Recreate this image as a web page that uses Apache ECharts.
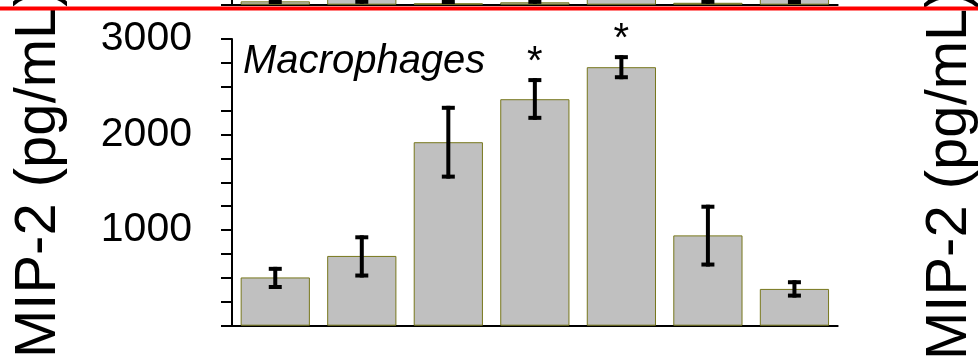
<!DOCTYPE html>
<html><head><meta charset="utf-8">
<script src="https://cdn.jsdelivr.net/npm/echarts@6/dist/echarts.min.js"></script>
<style>html,body{margin:0;padding:0;background:#fff}#c{width:978px;height:358px}</style>
</head><body><div id="c"></div>
<script>
// ---- main panel (Macrophages) ----
const categories = ['1', '2', '3', '4', '5', '6', '7'];
const mip2Means = [505, 730, 1920, 2370, 2705, 945, 385];
const mip2ErrLow = [405, 525, 1560, 2175, 2600, 640, 315];
const mip2ErrHigh = [595, 925, 2280, 2570, 2810, 1245, 455];
const significance = ['', '', '', '*', '*', '', ''];
const yLabelValues = [1000, 2000, 3000];
const panelLabel = 'Macrophages';
const yTitle = 'MIP-2 (pg/mL)';
// ---- upper panel (only its bottom edge is visible) ----
const upperMeans = [35, 900, 15, 25, 1200, 20, 800];
const upperErrLow = [28, 30, 28, 30, 1100, 30, 28];
const upperErrHigh = [300, 1200, 200, 200, 1300, 200, 1100];

const FONT = '"Liberation Sans", Arial, sans-serif';
const chart = echarts.init(document.getElementById('c'), null, {renderer: 'canvas', width: 978, height: 358});

function makeErrRender(withSig) {
  return function (params, api) {
    const x = api.value(0), lo = api.value(1), hi = api.value(2);
    const pLo = api.coord([x, lo]), pHi = api.coord([x, hi]);
    const hw = 6.5;
    const st = {stroke: '#000', lineWidth: 4, fill: null};
    const children = [
      {type: 'line', shape: {x1: pLo[0], y1: pLo[1] + 2, x2: pHi[0], y2: pHi[1] - 2}, style: st},
      {type: 'line', shape: {x1: pLo[0] - hw, y1: pLo[1], x2: pLo[0] + hw, y2: pLo[1]}, style: st},
      {type: 'line', shape: {x1: pHi[0] - hw, y1: pHi[1], x2: pHi[0] + hw, y2: pHi[1]}, style: st}
    ];
    const sig = withSig ? significance[params.dataIndex] : '';
    if (sig) {
      children.push({type: 'text', x: pHi[0], y: pHi[1] - 16.7,
        style: {text: sig, font: '40px ' + FONT, fill: '#000', align: 'center', verticalAlign: 'middle', textAlign: 'center', textVerticalAlign: 'middle'}});
    }
    return {type: 'group', children: children};
  };
}

const yAxisBase = {
  type: 'value', min: 0, max: 3000, interval: 250,
  axisLine: {show: true, lineStyle: {color: '#000', width: 2}},
  axisTick: {show: true, length: 11, lineStyle: {color: '#000', width: 2}},
  splitLine: {show: false}
};
const xAxisBase = {
  type: 'category', data: categories,
  axisLine: {show: true, lineStyle: {color: '#000', width: 2}},
  axisTick: {show: false}, axisLabel: {show: false}, splitLine: {show: false}
};
const barStyle = {color: '#c0c0c0', borderColor: '#77771c', borderWidth: 1};

const option = {
  animation: false,
  backgroundColor: '#fff',
  grid: [
    {left: 232, right: 140.3, top: 39, bottom: 32.3, outerBoundsMode: 'none', containLabel: false},
    {left: 232, right: 140.3, top: -282, bottom: 353.3, outerBoundsMode: 'none', containLabel: false}
  ],
  xAxis: [
    Object.assign({gridIndex: 0}, xAxisBase),
    Object.assign({gridIndex: 1}, xAxisBase)
  ],
  yAxis: [
    Object.assign({gridIndex: 0, axisLabel: {
      show: true, color: '#000', fontSize: 41, fontFamily: FONT, margin: 40, padding: [0, 0, 11, 0],
      formatter: function (v) { return yLabelValues.indexOf(v) >= 0 ? String(v) : ''; }
    }}, yAxisBase),
    Object.assign({gridIndex: 1, axisLabel: {show: false}}, yAxisBase)
  ],
  series: [
    {type: 'bar', xAxisIndex: 0, yAxisIndex: 0, data: mip2Means, barWidth: '80%', itemStyle: barStyle, z: 2},
    {type: 'custom', xAxisIndex: 0, yAxisIndex: 0, renderItem: makeErrRender(true),
      data: categories.map((c, i) => [i, mip2ErrLow[i], mip2ErrHigh[i]]), encode: {x: 0, y: [1, 2]}, z: 5},
    {type: 'bar', xAxisIndex: 1, yAxisIndex: 1, data: upperMeans, barWidth: '80%', itemStyle: barStyle, z: 2},
    {type: 'custom', xAxisIndex: 1, yAxisIndex: 1, renderItem: makeErrRender(false),
      data: categories.map((c, i) => [i, upperErrLow[i], upperErrHigh[i]]), encode: {x: 0, y: [1, 2]}, z: 5}
  ],
  graphic: [
    {type: 'text', x: 243, y: 62, z: 10,
      style: {text: panelLabel, font: 'italic 40px ' + FONT, fill: '#000', align: 'left', verticalAlign: 'middle', textAlign: 'left', textVerticalAlign: 'middle'}},
    {type: 'text', x: 38.5, y: 358, rotation: Math.PI / 2, z: 10,
      style: {text: yTitle, font: '58px ' + FONT, fill: '#000', align: 'left', verticalAlign: 'middle', textAlign: 'left', textVerticalAlign: 'middle'}},
    {type: 'text', x: 950, y: 360, rotation: Math.PI / 2, z: 10,
      style: {text: yTitle, font: '58px ' + FONT, fill: '#000', align: 'left', verticalAlign: 'middle', textAlign: 'left', textVerticalAlign: 'middle'}},
    {type: 'rect', shape: {x: 0, y: 6.5, width: 978, height: 4}, style: {fill: '#ff0000'}, z: 100}
  ]
};
chart.setOption(option);
</script>
</body></html>
